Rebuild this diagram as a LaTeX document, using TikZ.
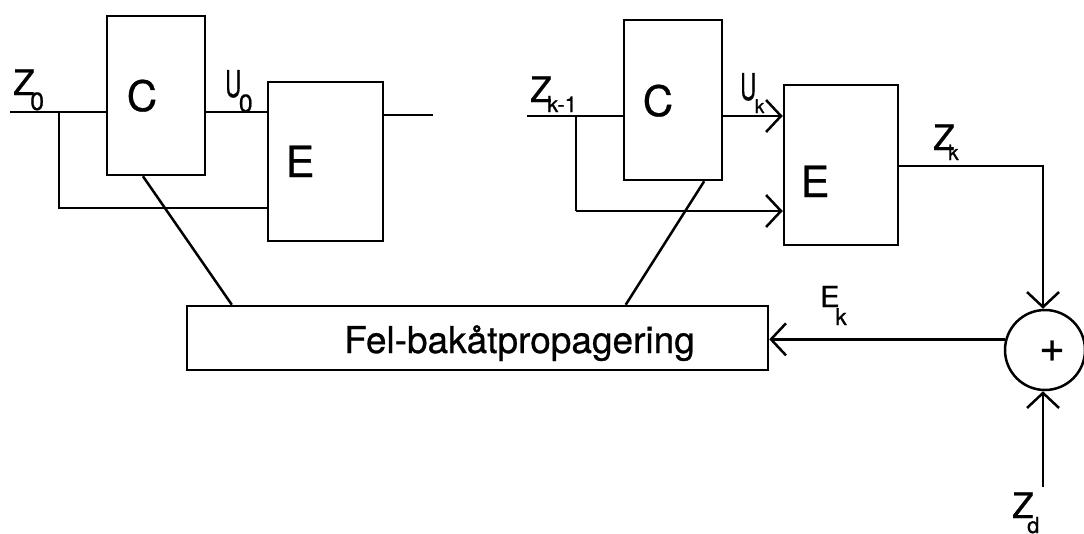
\documentclass[tikz,border=0pt]{standalone}
\usepackage{fontspec}
\setmainfont{TeX Gyre Heros}[FakeBold=0.7]
\usetikzlibrary{arrows.meta,calc}
\newcommand\fs[1]{\fontsize{#1}{#1}\selectfont}
\tikzset{
  blk/.style={draw, line width=2.5pt, inner sep=0pt},
  conn/.style={line width=2.5pt},
  big/.style={font=\fs{42}, inner sep=0pt, anchor=base},
  lbl/.style={font=\fs{35}, inner sep=0pt, anchor=base west},
  >={Straight Barb[length=15pt,width=32pt]}
}
\begin{document}
\begin{tikzpicture}[x=1pt,y=-1pt]
\useasboundingbox (0,0) rectangle (1084,533);
% boxes
\node[blk, minimum width=98pt, minimum height=159pt] (cL) at (156,95.5) {};
\node[blk, minimum width=115pt, minimum height=159pt] (eL) at (325.5,161.5) {};
\node[blk, minimum width=98pt, minimum height=160pt] (cR) at (673,100) {};
\node[blk, minimum width=114pt, minimum height=160pt] (eR) at (841,165) {};
\node[blk, minimum width=581pt, minimum height=64pt] (fel) at (477.5,338) {};
\node[blk, circle, minimum size=80pt] (plus) at (1045,350) {};
% texts
\node[big] (tcL) at (142,111) {C};
\node[big, font=\fs{43}] (teL) at (300,177) {E};
\node[big] (tcR) at (658,116) {C};
\node[big, font=\fs{43}] (teR) at (815,197) {E};
\node[font=\fs{37}, inner sep=0pt, anchor=base] (tfel) at (519.5,353) {Fel-bakåtpropagering};
\node[font=\fs{44}, inner sep=0pt] (tplus) at (1052,351) {+};
% labels
\node[lbl] (lz0) at (13,95) {Z\kern-4.4pt\raisebox{-15pt}{\fs{25}0}};
\node[lbl, font=\fs{37}] (lu0) at (225,97) {\scalebox{0.6}[1]{U}\kern-2.4pt\raisebox{-15pt}{\fs{25}0}};
\node[lbl] (lzk1) at (530,102) {Z\kern-4.4pt\raisebox{-10pt}{\fs{22}k-1}};
\node[lbl, font=\fs{37}] (luk) at (740,100) {\scalebox{0.6}[1]{U}\kern-1.4pt\raisebox{-13pt}{\fs{19}k}};
\node[lbl] (lzk) at (933,150) {Z\kern-6.4pt\raisebox{-10pt}{\fs{21}k}};
\node[lbl, font=\fs{29}] (lek) at (820,307) {E\kern-4.3pt\raisebox{-18pt}{\fs{23}k}};
\node[lbl] (lzd) at (1012,518) {Z\kern-6.4pt\raisebox{-15pt}{\fs{22}d}};
% coordinates
\coordinate (z0) at (10,112);
\coordinate (b0) at (59,112);
\coordinate (b0d) at (59,208);
\coordinate (e0out) at (433,115);
\coordinate (zk1) at (527,116);
\coordinate (bk) at (576,116);
\coordinate (bkd) at (576,211);
\coordinate (zcorner) at (1043,166);
\coordinate (zd) at (1043,487);
% connectors left stage
\draw[conn] (z0) -- (z0 -| cL.west);
\draw[conn] (b0) -- (b0d) -- (b0d -| eL.west);
\draw[conn] (z0 -| cL.east) -- (z0 -| eL.west);
\draw[conn] (e0out -| eL.east) -- (e0out);
% connectors right stage
\draw[conn] (zk1) -- (zk1 -| cR.west);
\draw[conn,->] (zk1 -| cR.east) -- (zk1 -| eR.west);
\draw[conn] (bk) -- (bkd);
\draw[conn,->] (bkd) -- (bkd -| eR.west);
\draw[conn,->] (zcorner -| eR.east) -- (zcorner) -- (zcorner |- plus.north);
\draw[conn,->] (zd) -- (zd |- plus.south);
\draw[conn,->] (plus.165) -- (plus.165 -| fel.east);
% diagonals
\draw[conn] ($(cL.south west)!0.37!(cL.south east)$) -- ($(fel.north west)!0.079!(fel.north east)$);
\draw[conn] ($(cR.south west)!0.81!(cR.south east)$) -- ($(fel.north west)!0.754!(fel.north east)$);
\end{tikzpicture}
\end{document}
